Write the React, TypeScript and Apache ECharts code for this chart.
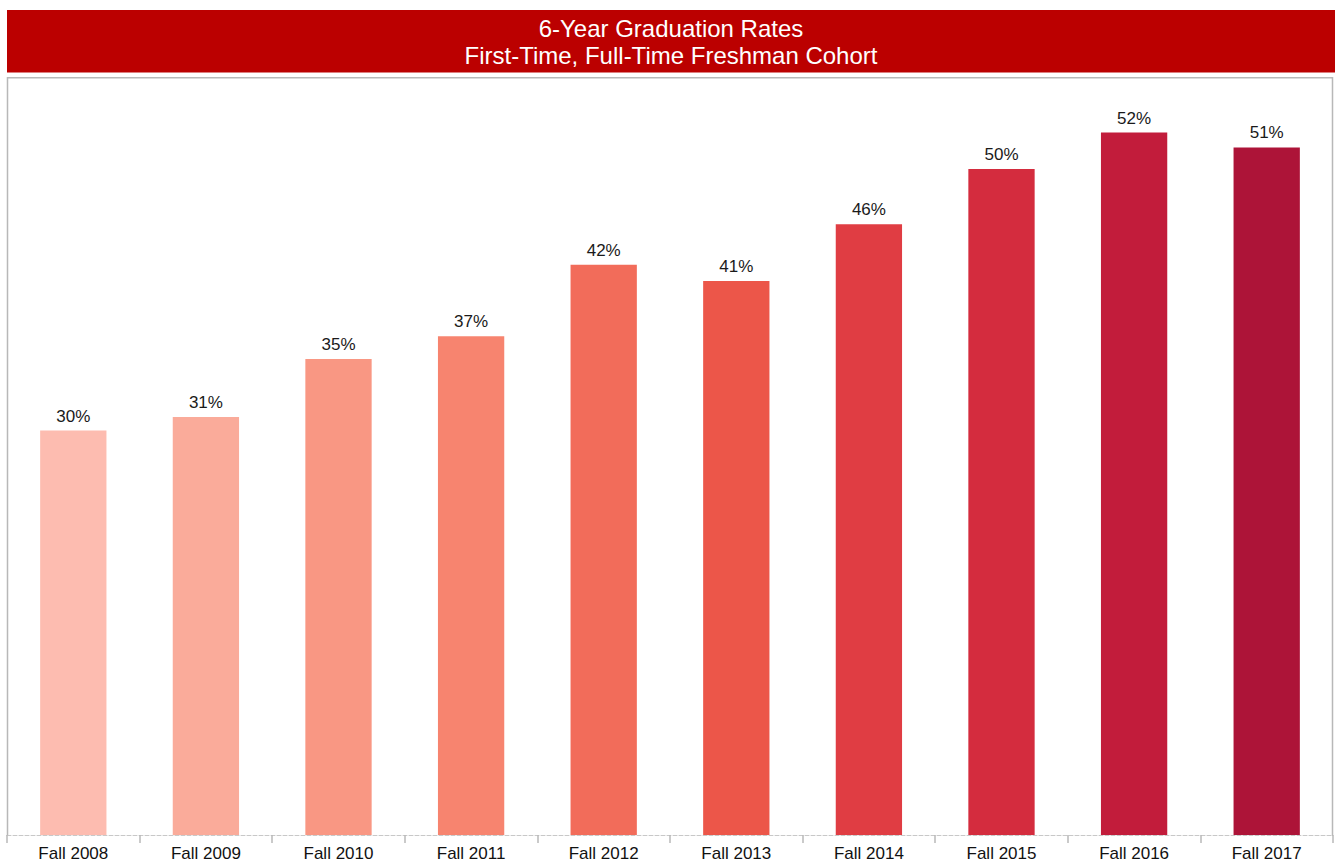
import React, { useEffect, useRef } from "react";
import * as echarts from "echarts";

const categories = ["Fall 2008", "Fall 2009", "Fall 2010", "Fall 2011", "Fall 2012", "Fall 2013", "Fall 2014", "Fall 2015", "Fall 2016", "Fall 2017"];
const rates = [30.0, 31.0, 35.3, 37.0, 42.3, 41.1, 45.3, 49.4, 52.1, 51.0];
const rateLabels = ["30%", "31%", "35%", "37%", "42%", "41%", "46%", "50%", "52%", "51%"];
const barColors = ["#FDBCB0", "#FAAB9A", "#F99783", "#F7846F", "#F26C5A", "#EC5649", "#E03D43", "#D42C3E", "#C21C3B", "#AD1438"];
const titleLines = ["6-Year Graduation Rates", "First-Time, Full-Time Freshman Cohort"];

const FONT = "Arial, 'Liberation Sans', Helvetica, sans-serif";

export default function App() {
  const ref = useRef<HTMLDivElement>(null);
  useEffect(() => {
    if (!ref.current) return;
    const chart = echarts.init(ref.current, null, { renderer: "svg" });
    chart.setOption({
      animation: false,
      backgroundColor: "#ffffff",
      grid: { left: 7, right: 2, top: 80, bottom: 26, containLabel: false },
      xAxis: {
        type: "category",
        data: categories,
        axisLine: { show: true, lineStyle: { color: "#c8c8c8", type: "dashed", width: 1 } },
        axisTick: { show: true, length: 8, lineStyle: { color: "#b8b8b8", width: 1.5 } },
        axisLabel: { color: "#111", fontSize: 17, fontFamily: FONT, margin: 10, interval: 0 },
      },
      yAxis: {
        type: "value",
        min: 0,
        max: 56,
        show: false,
        splitLine: { show: false },
      },
      series: [
        {
          type: "bar",
          barCategoryGap: "50%",
          data: rates.map((v, i) => ({ value: v, itemStyle: { color: barColors[i] } })),
          label: {
            show: true,
            position: "top",
            distance: 6,
            color: "#1a1a1a",
            fontSize: 17,
            fontFamily: FONT,
            formatter: (p: any) => rateLabels[p.dataIndex],
          },
        },
      ],
      graphic: [
        {
          type: "rect",
          shape: { x: 7, y: 10, width: 1328, height: 62.5 },
          style: { fill: "#BB0000" },
          silent: true,
        },
        {
          type: "text",
          x: 671,
          y: 28,
          style: { text: titleLines[0], fill: "#ffffff", font: `24px ${FONT}`, textAlign: "center", textVerticalAlign: "middle" },
        },
        {
          type: "text",
          x: 671,
          y: 55,
          style: { text: titleLines[1], fill: "#ffffff", font: `24px ${FONT}`, textAlign: "center", textVerticalAlign: "middle" },
        },
        {
          type: "polyline",
          shape: { points: [[7.5, 836], [7.5, 77.75], [1332.5, 77.75], [1332.5, 836]] },
          style: { stroke: "#b8b8b8", lineWidth: 1.5, fill: null },
          silent: true,
        },
      ],
    });
    return () => chart.dispose();
  }, []);
  return <div ref={ref} style={{ position: "fixed", left: 0, top: 0, width: 1335, height: 862 }} />;
}
